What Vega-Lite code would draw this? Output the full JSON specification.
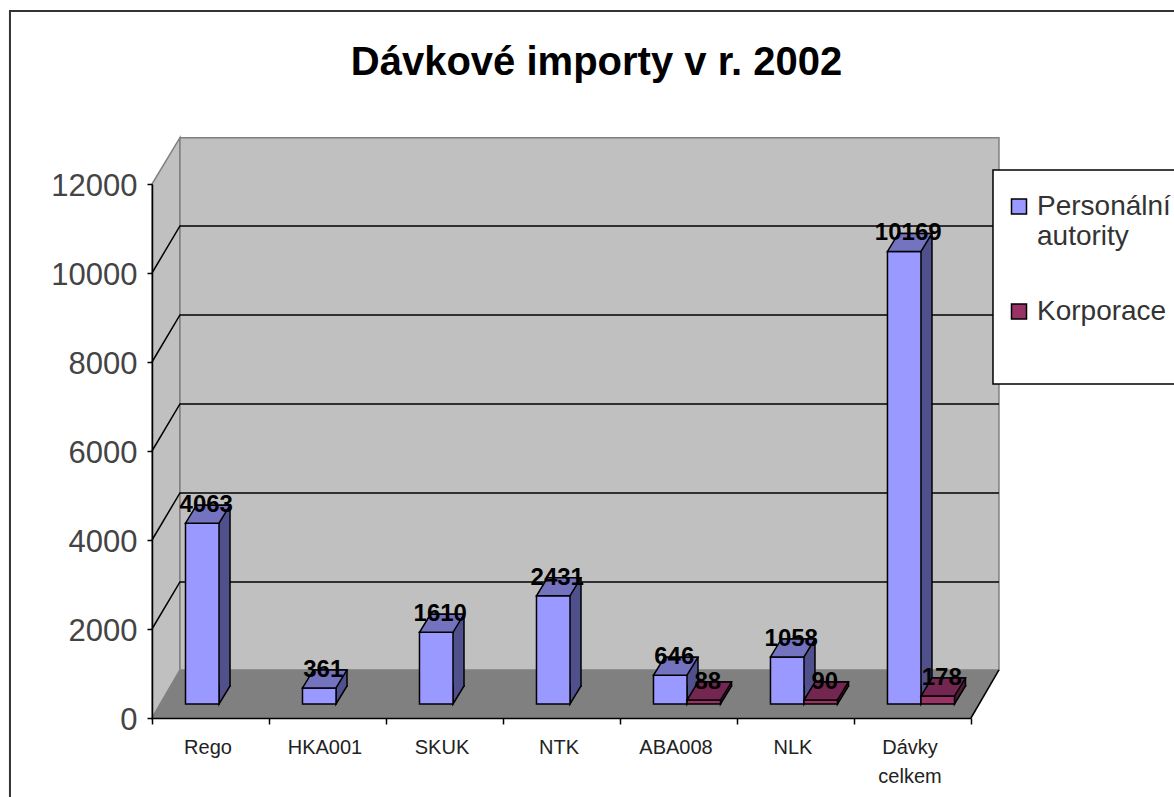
{
"$schema":"https://vega.github.io/schema/vega-lite/v6.json",
"width":819,"height":534,
"autosize":{"type":"none"},
"padding":{"left":152,"top":184,"right":203,"bottom":79},
"background":"white",
"title":{"text":"Dávkové importy v r. 2002","font":"Liberation Sans","fontSize":40,"fontWeight":"bold","color":"black","dx":35,"offset":-76,"anchor":"middle"},
"config":{"view":{"stroke":null}},
"datasets":{
"bars":[
{"kat":"Rego","serie":"Personální autority","pocet":4063},
{"kat":"HKA001","serie":"Personální autority","pocet":361},
{"kat":"SKUK","serie":"Personální autority","pocet":1610},
{"kat":"NTK","serie":"Personální autority","pocet":2431},
{"kat":"ABA008","serie":"Personální autority","pocet":646},
{"kat":"NLK","serie":"Personální autority","pocet":1058},
{"kat":"Dávky celkem","serie":"Personální autority","pocet":10169},
{"kat":"ABA008","serie":"Korporace","pocet":88},
{"kat":"NLK","serie":"Korporace","pocet":90},
{"kat":"Dávky celkem","serie":"Korporace","pocet":178}
],
"leftwall":[{"x":0,"y":0,"y2":12000},{"x":0.239,"y":1079,"y2":13040}],
"backwall":[{"x":0.239,"y":1079,"y2":13040},{"x":7.239,"y":1079,"y2":13040}],
"floor":[{"x":0,"y":0,"y2":0},{"x":0.239,"y":0,"y2":1079},{"x":7,"y":0,"y2":1079},{"x":7.239,"y":1079,"y2":1079}],
"grid":[
{"g":"a","x":0,"y":2000},{"g":"a","x":0.239,"y":3057},{"g":"a","x":7.239,"y":3057},
{"g":"b","x":0,"y":4000},{"g":"b","x":0.239,"y":5057},{"g":"b","x":7.239,"y":5057},
{"g":"c","x":0,"y":6000},{"g":"c","x":0.239,"y":7057},{"g":"c","x":7.239,"y":7057},
{"g":"d","x":0,"y":8000},{"g":"d","x":0.239,"y":9057},{"g":"d","x":7.239,"y":9057},
{"g":"e","x":0,"y":10000},{"g":"e","x":0.239,"y":11057},{"g":"e","x":7.239,"y":11057},
{"g":"f","x":7,"y":0},{"g":"f","x":7.239,"y":1079}
],
"frame":[{"x":-1.214,"y":-1775},{"x":-1.214,"y":15888},{"x":8.735,"y":15888}],
"legendbox":[{"x":7.188,"x2":9,"y":12314,"y2":7506}]
},
"layer":[
{"data":{"name":"leftwall"},"mark":{"type":"area","fill":"#C0C0C0","stroke":"#808080","strokeWidth":1.5},
 "encoding":{"x":{"field":"x","type":"quantitative","scale":{"domain":[0,7],"nice":false,"zero":false},"axis":null},
 "y":{"field":"y","type":"quantitative","scale":{"domain":[0,12000],"nice":false},"axis":{"title":null,"values":[0,2000,4000,6000,8000,10000,12000],"format":"d","zindex":1,"grid":false,"domainColor":"black","domainWidth":1.5,"tickColor":"black","tickSize":5,"tickWidth":1.5,"labelFont":"Liberation Sans","labelFontSize":31,"labelColor":"#444444","labelPadding":10,"labelOffset":2}},
 "y2":{"field":"y2"}}},
{"data":{"name":"backwall"},"mark":{"type":"area","fill":"#C0C0C0","stroke":"#808080","strokeWidth":1.5},
 "encoding":{"x":{"field":"x","type":"quantitative","scale":{"domain":[0,7],"nice":false,"zero":false},"axis":null},
 "y":{"field":"y","type":"quantitative"},"y2":{"field":"y2"}}},
{"data":{"name":"floor"},"mark":{"type":"area","fill":"#808080"},
 "encoding":{"x":{"field":"x","type":"quantitative","scale":{"domain":[0,7],"nice":false,"zero":false},"axis":null},
 "y":{"field":"y","type":"quantitative"},"y2":{"field":"y2"}}},
{"data":{"name":"grid"},"mark":{"type":"line","stroke":"black","strokeWidth":1.5},
 "encoding":{"x":{"field":"x","type":"quantitative","scale":{"domain":[0,7],"nice":false,"zero":false},"axis":null},
 "y":{"field":"y","type":"quantitative"},"detail":{"field":"g"},"order":{"field":"x"}}},
{"data":{"name":"bars"},"mark":{"type":"bar","opacity":0},
 "encoding":{"x":{"field":"kat","type":"nominal","scale":{"domain":["Rego","HKA001","SKUK","NTK","ABA008","NLK","Dávky celkem"],"paddingInner":0,"paddingOuter":0},
   "axis":{"title":null,"orient":"bottom","zindex":1,"labelAngle":0,"tickBand":"extent","labelFont":"Liberation Sans","labelFontSize":20,"labelColor":"#222222","labelPadding":13,"labelOffset":-3,"labelLineHeight":29,"labelBaseline":"top","labelLimit":200,"tickColor":"black","tickSize":6,"tickWidth":1.5,"domainColor":"black","domainWidth":1.5,"labelExpr":"datum.label == 'Dávky celkem' ? ['Dávky','celkem'] : datum.label"}},
 "y":{"field":"pocet","type":"quantitative"}}},
{"data":{"name":"bars"},"mark":{"type":"bar","stroke":"black","strokeWidth":1.5,"yOffset":-32},
 "encoding":{"x":{"field":"kat","type":"nominal","scale":{"domain":["Rego","HKA001","SKUK","NTK","ABA008","NLK","Dávky celkem"],"paddingInner":0.427,"paddingOuter":0.2137,"range":[19.5,838.5]},"axis":null},
 "xOffset":{"field":"serie","type":"nominal","scale":{"domain":["Personální autority","Korporace"],"paddingInner":0,"paddingOuter":0}},
 "y":{"field":"pocet","type":"quantitative"},
 "color":{"field":"serie","type":"nominal","scale":{"domain":["Personální autority","Korporace"],"range":["#50508C","#4C1933"]},"legend":null}}},
{"data":{"name":"bars"},"mark":{"type":"point","filled":true,"opacity":1,"stroke":"black","strokeWidth":1.5,"size":4,"shape":"M16.75 -19 L16.75 0 L27.75 -18 L27.75 -19","yOffset":-14},
 "encoding":{"x":{"field":"kat","type":"nominal","scale":{"domain":["Rego","HKA001","SKUK","NTK","ABA008","NLK","Dávky celkem"],"paddingInner":0.427,"paddingOuter":0.2137,"range":[8.5,827.5]},"axis":null},
 "xOffset":{"field":"serie","type":"nominal","scale":{"domain":["Personální autority","Korporace"],"paddingInner":0,"paddingOuter":0}},
 "y":{"datum":0,"type":"quantitative"},
 "color":{"field":"serie","type":"nominal","scale":{"domain":["Personální autority","Korporace"],"range":["#50508C","#4C1933"]},"legend":null}}},
{"data":{"name":"bars"},"mark":{"type":"bar","stroke":"black","strokeWidth":1.5,"yOffset":-14},
 "encoding":{"x":{"field":"kat","type":"nominal","scale":{"domain":["Rego","HKA001","SKUK","NTK","ABA008","NLK","Dávky celkem"],"paddingInner":0.427,"paddingOuter":0.2137,"range":[8.5,827.5]},"axis":null},
 "xOffset":{"field":"serie","type":"nominal","scale":{"domain":["Personální autority","Korporace"],"paddingInner":0,"paddingOuter":0}},
 "y":{"field":"pocet","type":"quantitative"},
 "color":{"field":"serie","type":"nominal","scale":{"domain":["Personální autority","Korporace"],"range":["#9999FF","#993366"]},"legend":null}}},
{"data":{"name":"bars"},"mark":{"type":"point","filled":true,"opacity":1,"stroke":"black","strokeWidth":1.5,"size":4,"shape":"M-16.75 0 L16.75 0 L27.75 -18 L-5.75 -18 Z","yOffset":-14},
 "encoding":{"x":{"field":"kat","type":"nominal","scale":{"domain":["Rego","HKA001","SKUK","NTK","ABA008","NLK","Dávky celkem"],"paddingInner":0.427,"paddingOuter":0.2137,"range":[8.5,827.5]},"axis":null},
 "xOffset":{"field":"serie","type":"nominal","scale":{"domain":["Personální autority","Korporace"],"paddingInner":0,"paddingOuter":0}},
 "y":{"field":"pocet","type":"quantitative"},
 "color":{"field":"serie","type":"nominal","scale":{"domain":["Personální autority","Korporace"],"range":["#7373BF","#732650"]},"legend":null}}},
{"data":{"name":"bars"},"mark":{"type":"text","font":"Liberation Sans","fontWeight":"bold","fontSize":24,"color":"black","baseline":"middle","yOffset":-32},
 "encoding":{"x":{"field":"kat","type":"nominal","scale":{"domain":["Rego","HKA001","SKUK","NTK","ABA008","NLK","Dávky celkem"],"paddingInner":0.427,"paddingOuter":0.2137,"range":[12.5,831.5]},"axis":null},
 "xOffset":{"field":"serie","type":"nominal","scale":{"domain":["Personální autority","Korporace"],"paddingInner":0,"paddingOuter":0}},
 "y":{"field":"pocet","type":"quantitative"},
 "text":{"field":"pocet","type":"quantitative","format":"d"}}},
{"data":{"name":"frame"},"mark":{"type":"line","stroke":"#333333","strokeWidth":2,"clip":false},
 "encoding":{"x":{"field":"x","type":"quantitative","scale":{"domain":[0,7],"nice":false,"zero":false},"axis":null},
 "y":{"field":"y","type":"quantitative"},"order":{"field":"x","sort":"ascending"}}},
{"data":{"name":"legendbox"},"mark":{"type":"rect","fill":"white","stroke":"black","strokeWidth":1.5},
 "encoding":{"x":{"field":"x","type":"quantitative","scale":{"domain":[0,7],"nice":false,"zero":false},"axis":null},"x2":{"field":"x2"},
 "y":{"field":"y","type":"quantitative"},"y2":{"field":"y2"}}},
{"data":{"name":"bars"},"mark":{"type":"square","opacity":0,"size":1},
 "encoding":{"x":{"field":"kat","type":"nominal","scale":{"domain":["Rego","HKA001","SKUK","NTK","ABA008","NLK","Dávky celkem"],"paddingInner":0.427,"paddingOuter":0.2137},"axis":null},
 "y":{"field":"pocet","type":"quantitative"},
 "color":{"field":"serie","type":"nominal","scale":{"domain":["Personální autority","Korporace"],"range":["#9999FF","#993366"]},
  "legend":{"title":null,"orient":"none","legendX":853,"legendY":17,"padding":0,"rowPadding":47,"symbolType":"M-7.5 -16 L7.5 -16 L7.5 -1 L-7.5 -1 Z","symbolSize":4,"symbolOpacity":1,"symbolStrokeColor":"black","symbolStrokeWidth":1.5,"labelFont":"Liberation Sans","labelFontSize":28,"labelColor":"#333333","labelOffset":4,"labelLimit":200,"labelExpr":"datum.label == 'Personální autority' ? ['Personální','autority'] : datum.label","labelBaseline":"alphabetic"}}}}
],
"resolve":{"scale":{"x":"independent","color":"independent"}}
}
